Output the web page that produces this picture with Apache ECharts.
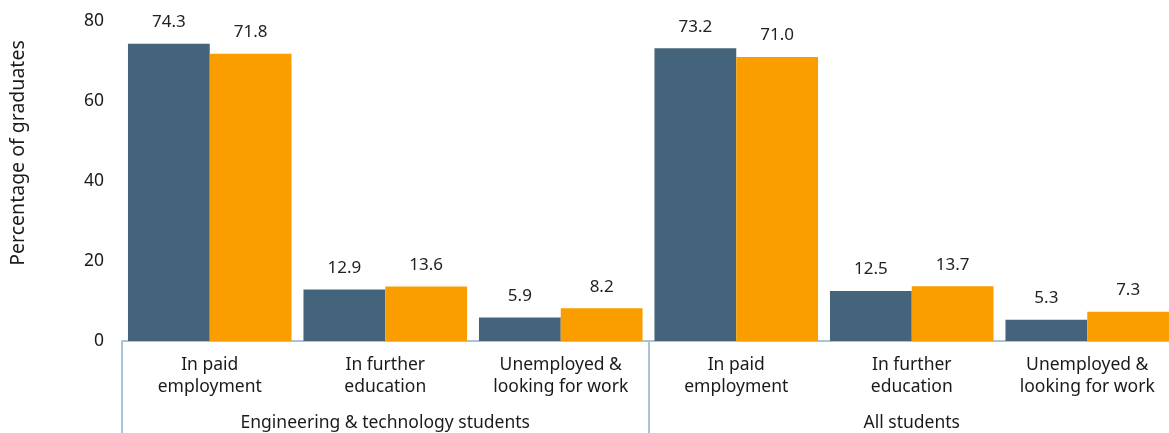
<!DOCTYPE html>
<html>
<head>
<meta charset="utf-8">
<script src="https://cdn.jsdelivr.net/npm/echarts@6/dist/echarts.min.js"></script>
<style>html,body{margin:0;padding:0;background:#fff}#c{width:1169px;height:433px}</style>
</head>
<body>
<div id="c"></div>
<script>
const categories = ["In paid\nemployment","In further\neducation","Unemployed &\nlooking for work","In paid\nemployment","In further\neducation","Unemployed &\nlooking for work"];
const groups = ["Engineering & technology students","All students"];
const seriesA = [74.3, 12.9, 5.9, 73.2, 12.5, 5.3];
const seriesB = [71.8, 13.6, 8.2, 71.0, 13.7, 7.3];
const yTicks = [0, 20, 40, 60, 80];

const FONT = "Noto Sans";
const chart = echarts.init(document.getElementById('c'));
const lbl = {show:true, position:'top', distance:13, color:'#222', fontSize:17, fontFamily:FONT, formatter: p => p.value.toFixed(1)};
chart.setOption({
  animation:false,
  textStyle:{fontFamily:FONT},
  grid:{left:122, width:1053, top:21, bottom:92, containLabel:false, outerBoundsMode:'none'},
  xAxis:[
    {type:'category', data:categories, position:'bottom',
     axisLine:{show:true, lineStyle:{color:'#a9c4d8', width:2}},
     axisTick:{show:false},
     axisLabel:{interval:0, margin:13, color:'#1a1a1a', fontSize:17.5, lineHeight:22, fontFamily:FONT}},
    {type:'category', data:groups, position:'bottom',
     axisLine:{show:false},
     axisTick:{show:true, length:95, lineStyle:{color:'#a9c4d8', width:2}},
     axisLabel:{interval:0, margin:73, color:'#1a1a1a', fontSize:17.5, fontFamily:FONT}}
  ],
  yAxis:{type:'value', min:yTicks[0], max:yTicks[yTicks.length-1], interval:20,
    name:'Percentage of graduates', nameLocation:'middle', nameGap:94,
    nameTextStyle:{fontSize:19.5, color:'#1a1a1a', fontFamily:FONT, padding:[0,0,0,56]},
    axisLine:{show:false}, axisTick:{show:false}, splitLine:{show:false},
    axisLabel:{margin:18, color:'#1a1a1a', fontSize:17.5, fontFamily:FONT}},
  series:[
    {type:'bar', data:seriesA, xAxisIndex:0, barGap:'0%', barCategoryGap:'6.8%', itemStyle:{color:'#44647c'}, label:lbl},
    {type:'bar', data:seriesB, xAxisIndex:0, barGap:'0%', barCategoryGap:'6.8%', itemStyle:{color:'#fa9e00'}, label:lbl}
  ]
});
</script>
</body>
</html>
